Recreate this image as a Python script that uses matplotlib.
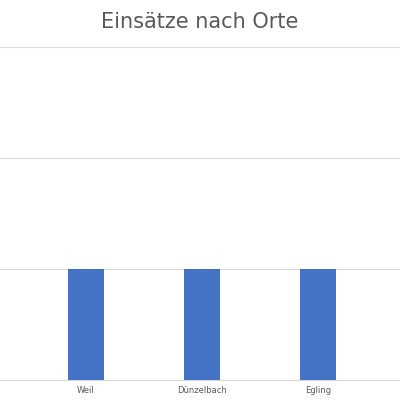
import matplotlib
matplotlib.use("Agg")
import matplotlib.pyplot as plt

orte = ["Weil", "Dünzelbach", "Egling"]
einsaetze = [1, 1, 1]

fig = plt.figure(figsize=(4, 4), dpi=100)
ax = fig.add_axes([0, 0.05, 1, 0.833])
x = list(range(len(orte)))
ax.bar(x, einsaetze, width=0.31, color="#4472C4", zorder=3)
ax.set_xlim(-0.741, 2.707)
ax.set_ylim(0, 3)
ax.set_yticks([0, 1, 2, 3])
ax.yaxis.grid(True, color="#D9D9D9", linewidth=0.8, zorder=0)
ax.tick_params(axis="y", left=False, labelleft=False)
ax.set_xticks(x)
ax.set_xticklabels(orte, fontsize=6, color="#595959")
ax.tick_params(axis="x", length=0, pad=4)
for s in ["top", "left", "right"]:
    ax.spines[s].set_visible(False)
ax.spines["bottom"].set_color("#D9D9D9")
fig.text(0.5, 0.945, "Einsätze nach Orte", ha="center", va="center", fontsize=15, color="#595959")
fig.savefig("out.png")
